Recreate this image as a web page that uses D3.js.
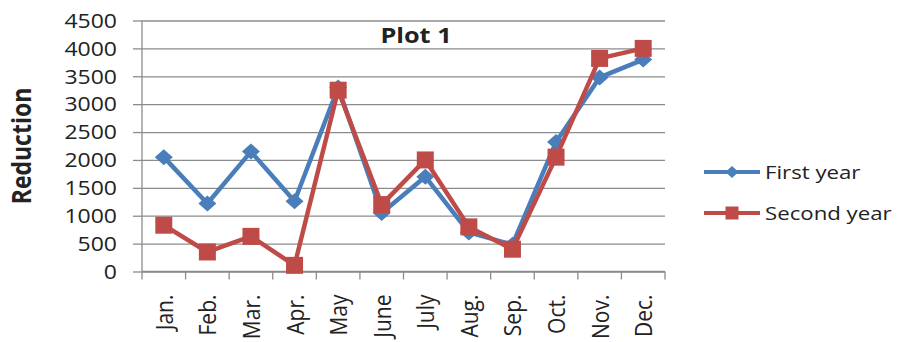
<!DOCTYPE html>
<html>
<head>
<meta charset="utf-8">
<script src="https://cdn.jsdelivr.net/npm/d3@7/dist/d3.min.js"></script>
<style>
  html, body { margin: 0; padding: 0; background: #fff; }
  svg text { font-family: "Open Sans", "DejaVu Sans", sans-serif; fill: #222; }
</style>
</head>
<body>
<svg id="chart" width="900" height="342"></svg>
<script>
// Monthly reduction, two years
const months = ["Jan.", "Feb.", "Mar.", "Apr.", "May", "June", "July", "Aug.", "Sep.", "Oct.", "Nov.", "Dec."];
const firstYear  = [2050, 1220, 2150, 1260, 3300, 1050, 1700, 700, 480, 2320, 3480, 3800];
const secondYear = [830, 350, 630, 110, 3250, 1200, 2000, 800, 400, 2050, 3820, 4000];
const yTicks = [0, 500, 1000, 1500, 2000, 2500, 3000, 3500, 4000, 4500];
const seriesNames = ["First year", "Second year"];
const seriesColors = ["#4A7EBB", "#BE4B48"];

const svg = d3.select("#chart");
const plot = { left: 142, right: 665, top: 20.5, bottom: 271.5 };
const stretch = 1.15; // text is set slightly wide

const x = d3.scaleBand().domain(months).range([plot.left, plot.right]).padding(0);
const y = d3.scaleLinear().domain([0, 4500]).range([plot.bottom, plot.top]);

// horizontal gridlines
svg.append("g")
  .attr("transform", `translate(${plot.left},0)`)
  .call(d3.axisLeft(y).tickValues(yTicks).tickSize(-(plot.right - plot.left)).tickFormat(""))
  .call(g => g.select(".domain").remove())
  .call(g => g.selectAll("line").attr("stroke", "#8c8c8c").attr("stroke-width", 1.3));

// y axis
const yAxis = svg.append("g")
  .attr("transform", `translate(${plot.left},0)`)
  .call(d3.axisLeft(y).tickValues(yTicks).tickSize(9).tickFormat(d3.format("d")));
yAxis.select(".domain").attr("stroke", "#8c8c8c").attr("stroke-width", 1.3).attr("d", `M0,${plot.top}V${plot.bottom}`);
yAxis.selectAll("line").attr("stroke", "#8c8c8c").attr("stroke-width", 1.3);
yAxis.selectAll("text")
  .attr("x", 0).attr("dy", "0.34em")
  .attr("transform", `translate(-25,0) scale(${stretch},1)`)
  .style("font-size", "20px").attr("fill", "#222");

// x axis with tick marks at category boundaries
const xAxis = svg.append("g").attr("transform", `translate(0,${plot.bottom})`);
xAxis.append("line")
  .attr("x1", plot.left).attr("x2", plot.right)
  .attr("stroke", "#8c8c8c").attr("stroke-width", 1.3);
const boundaries = months.map(m => x(m)).concat([plot.right]);
xAxis.selectAll("line.tick")
  .data(boundaries).join("line").attr("class", "tick")
  .attr("x1", d => d).attr("x2", d => d).attr("y1", 0).attr("y2", 8)
  .attr("stroke", "#8c8c8c").attr("stroke-width", 1.3);
xAxis.selectAll("text.month")
  .data(months).join("text").attr("class", "month")
  .attr("transform", d => `translate(${x(d) + x.bandwidth() / 2 + 9},${23}) scale(1.1,1) rotate(-90)`)
  .attr("text-anchor", "end")
  .style("font-size", "21px")
  .text(d => d);

// y axis title
svg.append("text")
  .attr("transform", `translate(31,${(plot.top + plot.bottom) / 2}) scale(${stretch},1) rotate(-90)`)
  .attr("text-anchor", "middle")
  .style("font-size", "23px").style("font-weight", "bold")
  .text("Reduction");

// chart title
svg.append("text")
  .attr("transform", `translate(416,43) scale(${stretch},1)`)
  .attr("text-anchor", "middle")
  .style("font-size", "22px").style("font-weight", "bold")
  .text("Plot 1");

const cx = d => x(d) + x.bandwidth() / 2;
const line = d3.line().x((d, i) => cx(months[i])).y(d => y(d));

const diamond = (w, h) => `M0,${-h / 2}L${w / 2},0L0,${h / 2}L${-w / 2},0Z`;
const square = (s) => `M${-s / 2},${-s / 2}h${s}v${s}h${-s}Z`;

// first year series
svg.append("path").datum(firstYear)
  .attr("fill", "none").attr("stroke", seriesColors[0]).attr("stroke-width", 4.5)
  .attr("stroke-linejoin", "round").attr("d", line);
svg.selectAll("path.m1").data(firstYear).join("path").attr("class", "m1")
  .attr("transform", (d, i) => `translate(${cx(months[i])},${y(d)})`)
  .attr("d", diamond(18, 16)).attr("fill", seriesColors[0]);

// second year series
svg.append("path").datum(secondYear)
  .attr("fill", "none").attr("stroke", seriesColors[1]).attr("stroke-width", 4.5)
  .attr("stroke-linejoin", "round").attr("d", line);
svg.selectAll("path.m2").data(secondYear).join("path").attr("class", "m2")
  .attr("transform", (d, i) => `translate(${cx(months[i])},${y(d)})`)
  .attr("d", square(17)).attr("fill", seriesColors[1]);

// legend
const legend = svg.append("g");
seriesNames.forEach((name, i) => {
  const ly = 172 + i * 41;
  legend.append("line").attr("x1", 704).attr("x2", 760).attr("y1", ly).attr("y2", ly)
    .attr("stroke", seriesColors[i]).attr("stroke-width", 4);
  legend.append("path")
    .attr("transform", `translate(732,${ly})`)
    .attr("d", i === 0 ? diamond(13, 12) : square(13))
    .attr("fill", seriesColors[i]);
  legend.append("text")
    .attr("transform", `translate(765,${ly + 7}) scale(1.17,1)`)
    .style("font-size", "19px").text(name);
});
</script>
</body>
</html>
